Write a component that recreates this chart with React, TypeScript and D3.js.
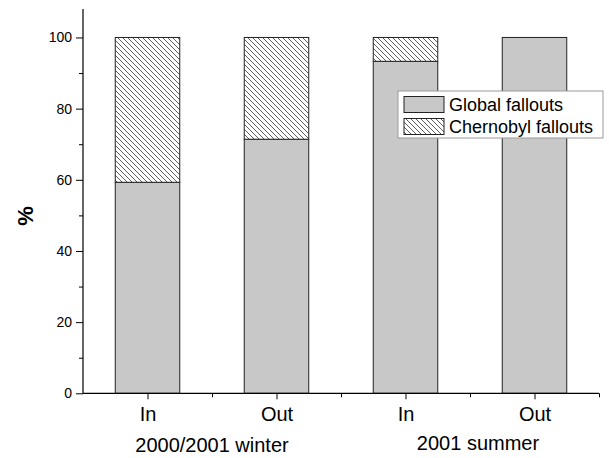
import React, { useEffect, useRef } from "react";
import * as d3 from "d3";

// chart data
const categories = ["In", "Out", "In", "Out"];
const groups = ["2000/2001 winter", "2001 summer"];
const globalFallouts = [59.3, 71.4, 93.3, 100];
const chernobylFallouts = [40.7, 28.6, 6.7, 0];
const seriesNames = ["Global fallouts", "Chernobyl fallouts"];
const yMajorTicks = [0, 20, 40, 60, 80, 100];
const yMinorTicks = [10, 30, 50, 70, 90];

const width = 609;
const height = 458;
const font = "'Liberation Sans', Arial, sans-serif";

const App: React.FC = () => {
  const svgRef = useRef<SVGSVGElement | null>(null);

  useEffect(() => {
    const svg = d3.select(svgRef.current);
    svg.selectAll("*").remove();

    // hatch pattern for the Chernobyl part
    const defs = svg.append("defs");
    defs
      .append("pattern")
      .attr("id", "hatch")
      .attr("patternUnits", "userSpaceOnUse")
      .attr("width", 5)
      .attr("height", 5)
      .append("path")
      .attr("d", "M0,0 L5,5 M-1,4 L1,6 M4,-1 L6,1")
      .attr("stroke", "#333")
      .attr("stroke-width", 0.8);

    const x = d3.scaleLinear().domain([0.5, 4.5]).range([83, 599]);
    const y = d3.scaleLinear().domain([0, 108]).range([393.3, 9]);
    const barW = x(1.25) - x(0.75);

    const rows = categories.map((c, i) => ({
      idx: i + 1,
      global: globalFallouts[i],
      chernobyl: chernobylFallouts[i],
    }));
    const stack = d3.stack<any>().keys(["global", "chernobyl"])(rows);
    const fills = ["#c8c8c8", "url(#hatch)"];

    stack.forEach((layer, li) => {
      const g = svg.append("g");
      const parts = layer.filter((d) => d[1] - d[0] > 0);
      if (li === 1) {
        // white under the hatching
        g.selectAll("rect.bg")
          .data(parts)
          .enter()
          .append("rect")
          .attr("class", "bg")
          .attr("x", (d) => x(d.data.idx) - barW / 2)
          .attr("y", (d) => y(d[1]))
          .attr("width", barW)
          .attr("height", (d) => y(d[0]) - y(d[1]))
          .attr("fill", "#fff");
      }
      g.selectAll("rect.bar")
        .data(parts)
        .enter()
        .append("rect")
        .attr("class", "bar")
        .attr("x", (d) => x(d.data.idx) - barW / 2)
        .attr("y", (d) => y(d[1]))
        .attr("width", barW)
        .attr("height", (d) => y(d[0]) - y(d[1]))
        .attr("fill", fills[li])
        .attr("stroke", "#222")
        .attr("stroke-width", 1);
    });

    // Y axis
    const yAxis = svg
      .append("g")
      .attr("transform", `translate(${x(0.5)},0)`)
      .call(d3.axisLeft(y).tickValues(yMajorTicks).tickSize(7).tickPadding(4));
    yAxis.select(".domain").attr("d", `M0,${y(108)}V${y(0)}`);
    yAxis
      .selectAll("text")
      .style("font-family", font)
      .style("font-size", "14px")
      .attr("fill", "#000");
    svg
      .append("g")
      .attr("transform", `translate(${x(0.5)},0)`)
      .call(d3.axisLeft(y).tickValues(yMinorTicks).tickSize(4).tickFormat(() => ""))
      .select(".domain")
      .remove();

    // X axis
    const xAxis = svg
      .append("g")
      .attr("transform", `translate(0,${y(0)})`)
      .call(
        d3
          .axisBottom(x)
          .tickValues([1, 2, 3, 4])
          .tickSize(6)
          .tickPadding(8)
          .tickFormat((d) => categories[(d as number) - 1])
      );
    xAxis.select(".domain").attr("d", `M${x(0.5)},0H${x(4.5)}`);
    xAxis
      .selectAll("text")
      .style("font-family", font)
      .style("font-size", "20px")
      .attr("fill", "#000");
    svg
      .append("g")
      .attr("transform", `translate(0,${y(0)})`)
      .call(d3.axisBottom(x).tickValues([1.5, 2.5, 3.5, 4.5]).tickSize(4).tickFormat(() => ""))
      .select(".domain")
      .remove();
    svg.selectAll(".tick line").attr("stroke", "#000");
    svg.selectAll(".domain").attr("stroke", "#000").attr("stroke-width", 1.2);

    // group labels
    const groupPos = [
      { cx: (x(1) + x(2)) / 2, dx: 0, by: 452 },
      { cx: (x(3) + x(4)) / 2, dx: 8, by: 450 },
    ];
    groups.forEach((g, i) => {
      svg
        .append("text")
        .attr("x", groupPos[i].cx + groupPos[i].dx)
        .attr("y", groupPos[i].by)
        .attr("text-anchor", "middle")
        .style("font-family", font)
        .style("font-size", "20px")
        .text(g);
    });

    // y title
    svg
      .append("text")
      .attr("transform", "translate(33,216) rotate(-90)")
      .attr("text-anchor", "middle")
      .style("font-family", font)
      .style("font-size", "22px")
      .style("font-weight", "bold")
      .text("%");

    // legend
    const legend = svg.append("g").attr("transform", "translate(398,91)");
    legend
      .append("rect")
      .attr("width", 205)
      .attr("height", 47)
      .attr("fill", "#fff")
      .attr("stroke", "#999")
      .attr("stroke-width", 1);
    seriesNames.forEach((name, i) => {
      legend
        .append("rect")
        .attr("x", 6)
        .attr("y", 5.5 + i * 22)
        .attr("width", 40)
        .attr("height", 16)
        .attr("fill", fills[i])
        .attr("stroke", "#222")
        .attr("stroke-width", 1);
      legend
        .append("text")
        .attr("x", 51)
        .attr("y", 20 + i * 22)
        .style("font-family", font)
        .style("font-size", "18px")
        .text(name);
    });
  }, []);

  return (
    <svg
      ref={svgRef}
      width={width}
      height={height}
      style={{ position: "absolute", left: 0, top: 0, background: "#fff" }}
    />
  );
};

export default App;
